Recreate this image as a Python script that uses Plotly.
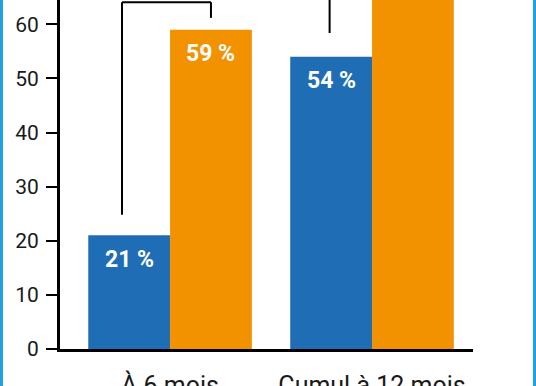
import plotly.graph_objects as go

categories = ["À 6 mois", "Cumul à 12 mois"]
blue_values = [21, 54]
orange_values = [59, 74]
y_ticks = [0, 10, 20, 30, 40, 50, 60]

BLUE = "#1f6db5"
ORANGE = "#f39200"
FRAME = "#1ea0e3"

x_pos = list(range(len(categories)))
bargap = 0.19
half = (1 - bargap) / 4  # center offset of each bar in a group

fig = go.Figure()
fig.add_bar(x=x_pos, y=blue_values, marker=dict(color=BLUE, line=dict(width=0)), name="a")
fig.add_bar(x=x_pos, y=orange_values, marker=dict(color=ORANGE, line=dict(width=0)), name="b")

# value labels inside bars
for xs, vals in ((-half, blue_values), (half, orange_values)):
    for i, v in enumerate(vals):
        fig.add_annotation(x=x_pos[i] + xs, y=v, text=f"{v} %", showarrow=False,
                           yanchor="middle", yshift=-24,
                           font=dict(family="Roboto", size=23, color="white", weight="bold"))

# comparison brackets
left_gap = [3.8, 4.4]
right_gap = [2.2, 2.2]
left_leg = [-0.238, -0.21]
for i in range(len(categories)):
    top = max(blue_values[i], orange_values[i]) + 5.1
    xl = x_pos[i] + left_leg[i]
    xr = x_pos[i] + half
    line = dict(color="black", width=2)
    fig.add_shape(type="line", x0=xl, x1=xl, y0=blue_values[i] + left_gap[i], y1=top, line=line)
    fig.add_shape(type="line", x0=xl, x1=xr, y0=top, y1=top, line=line)
    fig.add_shape(type="line", x0=xr, x1=xr, y0=orange_values[i] + right_gap[i], y1=top, line=line)

# light blue frame edges
fig.add_shape(type="rect", xref="paper", yref="paper", x0=-60/413, x1=-57/413, y0=-1, y1=2,
              fillcolor=FRAME, line=dict(width=0))
fig.add_shape(type="rect", xref="paper", yref="paper", x0=(533-60)/413, x1=(537-60)/413, y0=-1, y1=2,
              fillcolor=FRAME, line=dict(width=0))

fig.update_layout(
    width=536, height=386,
    margin=dict(l=60, r=63, t=0, b=37, autoexpand=False),
    paper_bgcolor="white", plot_bgcolor="white",
    barmode="group", bargap=bargap, bargroupgap=0,
    showlegend=False,
    font=dict(family="Roboto", color="#1a1a1a"),
)
fig.update_xaxes(
    range=[-0.545, 1.5], tickvals=x_pos, ticktext=categories,
    showgrid=False, zeroline=False, showline=True, linecolor="black", linewidth=3,
    ticks="", tickfont=dict(size=25, color="#1a1a1a"), ticklabelstandoff=12, automargin=False,
)
fig.update_yaxes(
    range=[0, 64.5], tickvals=y_ticks, showgrid=False, zeroline=False,
    showline=True, linecolor="black", linewidth=3,
    ticks="outside", ticklen=11, tickwidth=2, tickcolor="black",
    tickfont=dict(size=21, color="#1a1a1a"), ticklabelstandoff=3, automargin=False,
)

fig.write_html("out.html", config={"displayModeBar": False},
               post_script="document.body.style.margin='0';document.body.style.overflow='hidden';")
